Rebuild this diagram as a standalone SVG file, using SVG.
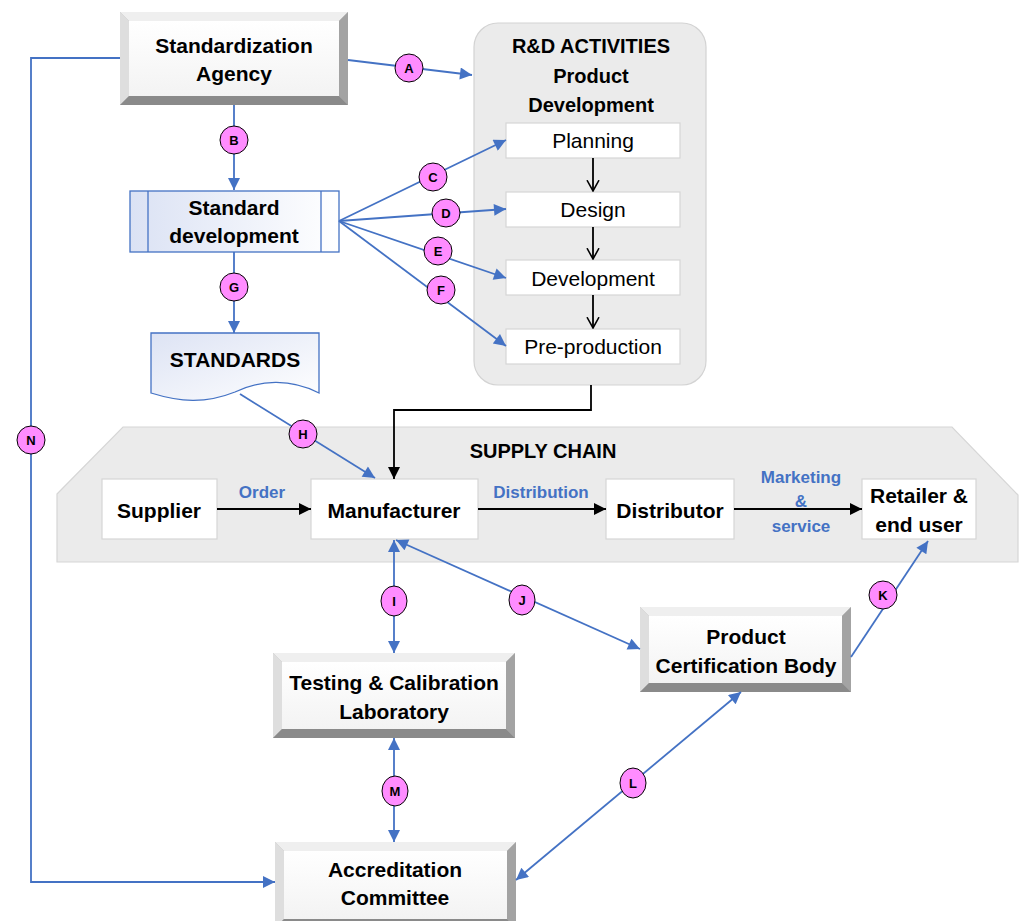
<svg xmlns="http://www.w3.org/2000/svg" width="1032" height="921" viewBox="0 0 1032 921">
<style>
text{font-family:"Liberation Sans",Arial,sans-serif;fill:#000}
.b{font-weight:bold;font-size:21px}
.r{font-size:21px}
.t{font-weight:bold;font-size:20px}
.lb{font-weight:bold;font-size:17px;fill:#4472c4}
.ct{font-weight:bold;font-size:13px}
.bt{fill:#efefef}.bl{fill:#dedede}.br{fill:#a3a3a3}.bbm{fill:#8a8a8a}
.inn{fill:url(#gIn)}
.wb{fill:#fff;stroke:#d6d6d6;stroke-width:1.2}
.blue{fill:none;stroke:#4472c4;stroke-width:1.8}
.blk{fill:none;stroke:#000;stroke-width:1.8}
.cir{fill:#ff8cff;stroke:#000;stroke-width:1}
</style>
<defs>
<linearGradient id="gIn" x1="0" y1="0" x2="0" y2="1"><stop offset="0" stop-color="#ffffff"/><stop offset="1" stop-color="#f3f3f3"/></linearGradient>
<linearGradient id="gBl" x1="0" y1="0" x2="1" y2="0"><stop offset="0" stop-color="#dbe2f4"/><stop offset="1" stop-color="#ffffff"/></linearGradient>
<linearGradient id="gBl2" x1="0" y1="0" x2="1" y2="1"><stop offset="0" stop-color="#dde3f4"/><stop offset="1" stop-color="#ffffff"/></linearGradient>
<marker id="ab" viewBox="0 0 10 10" refX="10" refY="5" markerWidth="15" markerHeight="12" markerUnits="userSpaceOnUse" orient="auto-start-reverse"><path d="M0,0 L10,5 L0,10 z" fill="#4472c4"/></marker>
<marker id="ak" viewBox="0 0 10 10" refX="10" refY="5" markerWidth="14" markerHeight="12" markerUnits="userSpaceOnUse" orient="auto"><path d="M0,0 L10,5 L0,10 z" fill="#000"/></marker>
<marker id="ao" viewBox="0 0 10 10" refX="9" refY="5" markerWidth="12" markerHeight="14" markerUnits="userSpaceOnUse" orient="auto"><path d="M0,0 L9,5 L0,10" fill="none" stroke="#000" stroke-width="1.3"/></marker>
</defs>

<!-- containers -->
<g id="rd">
<rect x="474" y="23" width="232" height="362" rx="24" fill="#ebebeb" stroke="#d3d3d3" stroke-width="1.2"/>
<text class="t" x="591" y="53" text-anchor="middle">R&amp;D ACTIVITIES</text>
<text class="t" x="591" y="83" text-anchor="middle">Product</text>
<text class="t" x="591" y="112" text-anchor="middle">Development</text>
</g>
<g id="supplychain">
<polygon points="57,494 123,427 952,427 1018,495 1018,562 57,562" fill="#ebebeb" stroke="#d6d6d6" stroke-width="1.2"/>
<text class="t" x="543" y="458" text-anchor="middle">SUPPLY CHAIN</text>
</g>

<!-- nodes -->
<g id="agency">
<rect x="120" y="12" width="228" height="93" fill="#bbb"/>
<polygon class="bt" points="120,12 348,12 339,21 129,21"/>
<polygon class="bl" points="120,12 129,21 129,96 120,105"/>
<polygon class="br" points="348,12 348,105 339,96 339,21"/>
<polygon class="bbm" points="120,105 348,105 339,96 129,96"/>
<rect class="inn" x="129" y="21" width="210" height="75"/>
<text class="b" x="234" y="53" text-anchor="middle">Standardization</text>
<text class="b" x="234" y="81" text-anchor="middle">Agency</text>
</g>
<g id="stddev">
<rect x="130" y="191" width="209" height="61" fill="url(#gBl)" stroke="#4472c4" stroke-width="1.3"/>
<line x1="148" y1="191" x2="148" y2="252" stroke="#4472c4" stroke-width="1.3"/>
<line x1="321" y1="191" x2="321" y2="252" stroke="#4472c4" stroke-width="1.3"/>
<text class="b" x="234" y="215" text-anchor="middle">Standard</text>
<text class="b" x="234" y="243" text-anchor="middle">development</text>
</g>
<g id="standards">
<path d="M151,333 L319,333 L319,393 C290,378 260,380 235,392 C205,404 180,402 151,393 Z" fill="url(#gBl2)" stroke="#4472c4" stroke-width="1.3"/>
<text class="b" x="235" y="367" text-anchor="middle">STANDARDS</text>
</g>
<g id="planning"><rect class="wb" x="506" y="123" width="174" height="35"/><text class="r" x="593" y="148" text-anchor="middle">Planning</text></g>
<g id="design"><rect class="wb" x="506" y="192" width="174" height="35"/><text class="r" x="593" y="217" text-anchor="middle">Design</text></g>
<g id="development"><rect class="wb" x="506" y="260" width="174" height="35"/><text class="r" x="593" y="286" text-anchor="middle">Development</text></g>
<g id="preproduction"><rect class="wb" x="506" y="329" width="174" height="35"/><text class="r" x="593" y="354" text-anchor="middle">Pre-production</text></g>

<g id="supplier"><rect class="wb" x="102" y="479" width="115" height="60"/><text class="b" x="159" y="518" text-anchor="middle">Supplier</text></g>
<g id="manufacturer"><rect class="wb" x="311" y="479" width="167" height="60"/><text class="b" x="394" y="518" text-anchor="middle">Manufacturer</text></g>
<g id="distributor"><rect class="wb" x="606" y="479" width="128" height="60"/><text class="b" x="670" y="518" text-anchor="middle">Distributor</text></g>
<g id="retailer"><rect class="wb" x="862" y="479" width="114" height="60"/><text class="b" x="919" y="503" text-anchor="middle">Retailer &amp;</text><text class="b" x="919" y="532" text-anchor="middle">end user</text></g>

<g id="testing">
<rect x="273" y="653" width="242" height="85" fill="#bbb"/>
<polygon class="bt" points="273,653 515,653 506,662 282,662"/>
<polygon class="bl" points="273,653 282,662 282,729 273,738"/>
<polygon class="br" points="515,653 515,738 506,729 506,662"/>
<polygon class="bbm" points="273,738 515,738 506,729 282,729"/>
<rect class="inn" x="282" y="662" width="224" height="67"/>
<text class="b" x="394" y="690" text-anchor="middle">Testing &amp; Calibration</text>
<text class="b" x="394" y="719" text-anchor="middle">Laboratory</text>
</g>
<g id="certification">
<rect x="640" y="607" width="211" height="85" fill="#bbb"/>
<polygon class="bt" points="640,607 851,607 842,616 649,616"/>
<polygon class="bl" points="640,607 649,616 649,683 640,692"/>
<polygon class="br" points="851,607 851,692 842,683 842,616"/>
<polygon class="bbm" points="640,692 851,692 842,683 649,683"/>
<rect class="inn" x="649" y="616" width="193" height="67"/>
<text class="b" x="746" y="644" text-anchor="middle">Product</text>
<text class="b" x="746" y="673" text-anchor="middle">Certification Body</text>
</g>
<g id="accreditation">
<rect x="275" y="842" width="241" height="86" fill="#bbb"/>
<polygon class="bt" points="275,842 516,842 507,851 284,851"/>
<polygon class="bl" points="275,842 284,851 284,919 275,928"/>
<polygon class="br" points="516,842 516,928 507,919 507,851"/>
<polygon class="bbm" points="275,928 516,928 507,919 284,919"/>
<rect class="inn" x="284" y="851" width="223" height="68"/>
<text class="b" x="395" y="877" text-anchor="middle">Accreditation</text>
<text class="b" x="395" y="905" text-anchor="middle">Committee</text>
</g>

<!-- connectors -->
<g id="connectors">
<line class="blue" x1="348" y1="60" x2="472" y2="75" marker-end="url(#ab)"/>
<polyline class="blue" points="120,58 31,58 31,882 275,882" marker-end="url(#ab)"/>
<line class="blue" x1="234" y1="105" x2="234" y2="190" marker-end="url(#ab)"/>
<line class="blue" x1="339" y1="221" x2="506" y2="140" marker-end="url(#ab)"/>
<line class="blue" x1="339" y1="221" x2="506" y2="209" marker-end="url(#ab)"/>
<line class="blue" x1="339" y1="221" x2="506" y2="278" marker-end="url(#ab)"/>
<line class="blue" x1="339" y1="221" x2="506" y2="346" marker-end="url(#ab)"/>
<line class="blue" x1="234" y1="252" x2="234" y2="333" marker-end="url(#ab)"/>
<line class="blue" x1="240" y1="394" x2="375" y2="478" marker-end="url(#ab)"/>
<line class="blk" x1="593" y1="158" x2="593" y2="191" marker-end="url(#ao)"/>
<line class="blk" x1="593" y1="227" x2="593" y2="259" marker-end="url(#ao)"/>
<line class="blk" x1="593" y1="295" x2="593" y2="328" marker-end="url(#ao)"/>
<polyline class="blk" points="591,385 591,410 394,410 394,479" marker-end="url(#ak)"/>
<line class="blk" x1="217" y1="509" x2="311" y2="509" marker-end="url(#ak)"/>
<line class="blk" x1="478" y1="509" x2="606" y2="509" marker-end="url(#ak)"/>
<line class="blk" x1="734" y1="509" x2="862" y2="509" marker-end="url(#ak)"/>
<line class="blue" x1="394" y1="540" x2="394" y2="653" marker-start="url(#ab)" marker-end="url(#ab)"/>
<line class="blue" x1="396" y1="540" x2="640" y2="649" marker-start="url(#ab)" marker-end="url(#ab)"/>
<line class="blue" x1="851" y1="657" x2="928" y2="541" marker-end="url(#ab)"/>
<line class="blue" x1="516" y1="880" x2="741" y2="692" marker-start="url(#ab)" marker-end="url(#ab)"/>
<line class="blue" x1="394" y1="738" x2="394" y2="842" marker-start="url(#ab)" marker-end="url(#ab)"/>
<text class="lb" x="262" y="498" text-anchor="middle">Order</text>
<text class="lb" x="541" y="498" text-anchor="middle">Distribution</text>
<text class="lb" x="801" y="483" text-anchor="middle">Marketing</text>
<text class="lb" x="801" y="507" text-anchor="middle">&amp;</text>
<text class="lb" x="801" y="532" text-anchor="middle">service</text>
<g id="circles">
<circle class="cir" cx="409" cy="68" r="14"/><text class="ct" x="409" y="73" text-anchor="middle">A</text>
<circle class="cir" cx="234" cy="140" r="14"/><text class="ct" x="234" y="145" text-anchor="middle">B</text>
<circle class="cir" cx="433" cy="177" r="14"/><text class="ct" x="433" y="182" text-anchor="middle">C</text>
<circle class="cir" cx="446" cy="213" r="14"/><text class="ct" x="446" y="218" text-anchor="middle">D</text>
<circle class="cir" cx="438" cy="251" r="14"/><text class="ct" x="438" y="256" text-anchor="middle">E</text>
<circle class="cir" cx="441" cy="290" r="14"/><text class="ct" x="441" y="295" text-anchor="middle">F</text>
<circle class="cir" cx="234" cy="287" r="14"/><text class="ct" x="234" y="292" text-anchor="middle">G</text>
<circle class="cir" cx="303" cy="434" r="14"/><text class="ct" x="303" y="439" text-anchor="middle">H</text>
<ellipse class="cir" cx="394" cy="601" rx="13" ry="15"/><text class="ct" x="394" y="606" text-anchor="middle">I</text>
<ellipse class="cir" cx="522" cy="600" rx="13" ry="15"/><text class="ct" x="522" y="605" text-anchor="middle">J</text>
<circle class="cir" cx="883" cy="595" r="14"/><text class="ct" x="883" y="600" text-anchor="middle">K</text>
<ellipse class="cir" cx="633" cy="783" rx="13" ry="15"/><text class="ct" x="633" y="788" text-anchor="middle">L</text>
<ellipse class="cir" cx="395" cy="791" rx="13" ry="15"/><text class="ct" x="395" y="796" text-anchor="middle">M</text>
<circle class="cir" cx="31" cy="440" r="14"/><text class="ct" x="31" y="445" text-anchor="middle">N</text>
</g>
</g>
</svg>
